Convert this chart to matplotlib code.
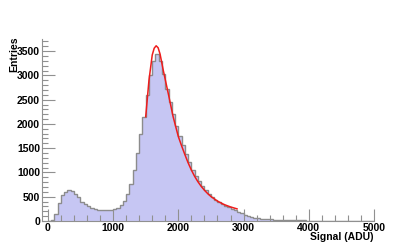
import numpy as np
import matplotlib
matplotlib.use("Agg")
import matplotlib.pyplot as plt
from matplotlib.ticker import MultipleLocator

# histogram contents, 50 ADU bins from 0 to 5000
bin_edges = np.arange(0, 5001, 50)
counts = [
    0, 20, 150, 380, 530, 600, 640, 610, 560, 500,
    400, 340, 300, 270, 250, 235, 225, 220, 220, 225,
    240, 275, 330, 420, 560, 760, 1050, 1400, 1800, 2150,
    2600, 3000, 3300, 3450, 3300, 3020, 2720, 2450, 2200, 1950,
    1750, 1560, 1380, 1220, 1060, 930, 820, 720, 630, 560,
    490, 440, 390, 350, 310, 280, 250, 220, 190, 160,
    130, 105, 85, 70, 58, 48, 42, 36, 32, 28,
    25, 22, 20, 18, 16, 14, 13, 12, 11, 10,
    9, 8, 8, 7, 6, 6, 5, 5, 4, 4,
    4, 3, 3, 3, 2, 2, 2, 2, 1, 1,
]

# fitted curve
fit_x = [1500, 1550, 1600, 1630, 1660, 1690, 1720, 1770, 1850, 1920,
         2000, 2050, 2100, 2150, 2200, 2250, 2300, 2350, 2400, 2450,
         2500, 2600, 2700, 2800, 2900]
fit_y = [2150, 2900, 3420, 3560, 3610, 3570, 3440, 3100, 2600, 2150,
         1740, 1550, 1370, 1200, 1050, 920, 810, 715, 635, 565,
         505, 410, 340, 290, 250]

plt.rcParams["font.family"] = ["Liberation Sans", "DejaVu Sans"]
plt.rcParams["font.weight"] = "bold"

fig = plt.figure(figsize=(4.16, 2.42), dpi=100)
ax = fig.add_axes([42 / 416, 21 / 242, 332 / 416, 182 / 242])

ax.stairs(counts, bin_edges, fill=True, facecolor="#c6c6f3", edgecolor="none")
ax.stairs(counts, bin_edges, color="#8c8c8c", linewidth=1.0)
ax.plot(fit_x, fit_y, color="#ee1c1c", linewidth=1.1)

ax.set_xlim(-90, 5000)
ax.set_ylim(0, 3750)
ax.xaxis.set_major_locator(MultipleLocator(1000))
ax.xaxis.set_minor_locator(MultipleLocator(200))
ax.yaxis.set_major_locator(MultipleLocator(500))
ax.yaxis.set_minor_locator(MultipleLocator(100))

for s in ["top", "right"]:
    ax.spines[s].set_visible(False)
for s in ["left", "bottom"]:
    ax.spines[s].set_color("#909090")
    ax.spines[s].set_linewidth(0.8)

ax.tick_params(which="major", direction="in", length=9, width=0.8, color="#909090",
               labelsize=7.5, pad=1.5)
ax.tick_params(which="minor", direction="in", length=4.5, width=0.8, color="#909090")
fig.canvas.draw()
for lab in ax.get_xticklabels() + ax.get_yticklabels():
    lab.set_fontweight("bold")

fig.text(373 / 416, 1 - 237 / 242, "Signal (ADU)", ha="right", va="center",
         fontsize=7.5, fontweight="bold")
fig.text(14 / 416, 1 - 37 / 242, "Entries", ha="center", va="top", rotation=90,
         fontsize=7.5, fontweight="bold")

fig.savefig("out.png", dpi=100, facecolor="white")
